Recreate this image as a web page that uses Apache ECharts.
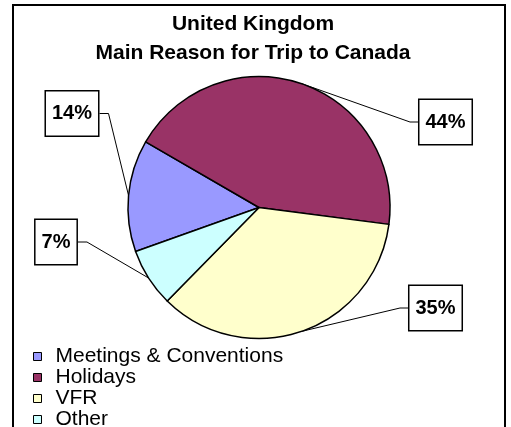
<!DOCTYPE html>
<html><head><meta charset="utf-8">
<script src="https://cdn.jsdelivr.net/npm/echarts@6/dist/echarts.min.js"></script>
<style>html,body{margin:0;padding:0;background:#fff}#c{width:511px;height:427px}</style>
</head><body><div id="c"></div>
<script>
const categories = ['Meetings & Conventions', 'Holidays', 'VFR', 'Other'];
const shares = [13.8, 43.7, 35.3, 7.2];
const colors = ['#9999FF', '#993366', '#FFFFCC', '#CCFFFF'];
const titleText = 'United Kingdom\nMain Reason for Trip to Canada';

// label box centres (layout only)
const labelCenters = [[72, 113.5], [445.5, 122], [435.5, 308], [56, 242]];
const PIE_CX = 259;

const chart = echarts.init(document.getElementById('c'), null, {renderer: 'canvas'});
const font = 'Liberation Sans, Arial, sans-serif';

chart.setOption({
  animation: false,
  backgroundColor: '#fff',
  graphic: [{
    type: 'rect', silent: true, z: -10,
    shape: {x: 13, y: 5, width: 492, height: 450},
    style: {fill: 'none', stroke: '#000', lineWidth: 2}
  }],
  title: {
    text: titleText,
    left: 253, top: 10, textAlign: 'center', padding: 0,
    textStyle: {fontFamily: font, fontWeight: 'bold', fontSize: 21, lineHeight: 29, color: '#000'}
  },
  legend: {
    orient: 'vertical', left: 33, top: 346, height: 100, padding: 0,
    itemWidth: 8, itemHeight: 8, itemGap: 0,
    icon: 'rect',
    data: categories,
    itemStyle: {borderColor: '#000', borderWidth: 1},
    textStyle: {fontFamily: font, fontSize: 21, lineHeight: 20, color: '#000', padding: [0, 0, 0, 9]}
  },
  series: [{
    type: 'pie',
    center: [PIE_CX, 207.5],
    radius: 131,
    startAngle: 199.6,
    clockwise: true,
    avoidLabelOverlap: false,
    data: categories.map((n, i) => ({name: n, value: shares[i], itemStyle: {color: colors[i]}})),
    itemStyle: {borderColor: '#000', borderWidth: 1.5},
    label: {
      show: true, position: 'outside',
      formatter: p => Math.round(p.percent) + '%',
      fontFamily: font, fontWeight: 'bold', fontSize: 20, lineHeight: 21, color: '#000',
      backgroundColor: '#fff', borderColor: '#000', borderWidth: 1.5,
      padding: [12, 6, 11, 6]
    },
    labelLine: {show: true, length: 10, length2: 10, lineStyle: {color: '#000', width: 1}},
    labelLayout: function (p) {
      const c = labelCenters[p.dataIndex];
      const w = p.labelRect.width;
      const leftSide = c[0] < PIE_CX;
      const edgeX = leftSide ? c[0] + w / 2 : c[0] - w / 2;
      const bendX = leftSide ? edgeX + 9 : edgeX - 8;
      const start = p.labelLinePoints ? p.labelLinePoints[0] : [bendX, c[1]];
      return {
        x: c[0], y: c[1], align: 'center', verticalAlign: 'middle',
        labelLinePoints: [start, [bendX, c[1]], [edgeX, c[1]]]
      };
    }
  }]
});
</script>
</body></html>
